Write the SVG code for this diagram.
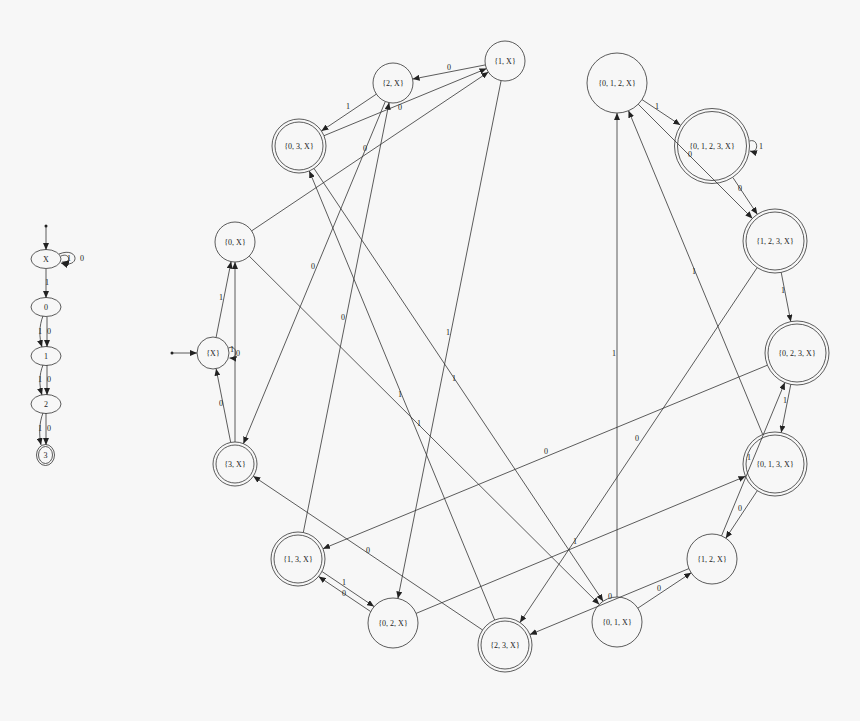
<svg xmlns="http://www.w3.org/2000/svg" width="860" height="721" viewBox="0 0 860 721">
<defs>
<style>
.n{fill:none;stroke:#333;stroke-width:0.8}
.e{fill:none;stroke:#333;stroke-width:0.8}
.t{font-family:"Liberation Serif",serif;font-size:8px;fill:#222;text-anchor:middle;dominant-baseline:central}
.l{font-family:"Liberation Serif",serif;font-size:8px;fill:#222;text-anchor:middle;dominant-baseline:central}
</style>
<marker id="a" markerUnits="userSpaceOnUse" markerWidth="8" markerHeight="6" refX="7" refY="3" orient="auto">
<path d="M0,0 L7,3 L0,6 Z" fill="#222"/>
</marker>
</defs>
<rect width="860" height="721" fill="#f7f7f7"/>

<!-- left NFA -->
<g id="nfa-edges">
<circle cx="46" cy="226" r="1.5" fill="#222"/>
<line class="e" x1="46" y1="227" x2="46" y2="250" marker-end="url(#a)"/>
<path class="e" d="M61,256 C70,252 72,264 62,262" marker-end="url(#a)"/>
<path class="e" d="M59,254 C79,246 81,269 61,263" marker-end="url(#a)"/>
<text class="l" x="69" y="258">1</text>
<text class="l" x="82" y="258">0</text>
<line class="e" x1="46" y1="269" x2="46" y2="298" marker-end="url(#a)"/>
<text class="l" x="47" y="282">1</text>
<path class="e" d="M43,316 C39,326 39,337 42,347" marker-end="url(#a)"/>
<line class="e" x1="47" y1="317" x2="47" y2="347" marker-end="url(#a)"/>
<text class="l" x="40" y="331">1</text>
<text class="l" x="49" y="331">0</text>
<path class="e" d="M43,365 C39,375 39,385 42,395" marker-end="url(#a)"/>
<line class="e" x1="47" y1="365" x2="47" y2="395" marker-end="url(#a)"/>
<text class="l" x="40" y="379">1</text>
<text class="l" x="49" y="379">0</text>
<path class="e" d="M43,413 C39,423 39,435 41,445" marker-end="url(#a)"/>
<line class="e" x1="46" y1="413" x2="46" y2="445" marker-end="url(#a)"/>
<text class="l" x="40" y="428">1</text>
<text class="l" x="49" y="428">0</text>
</g>
<g id="nX"><ellipse class="n" cx="46" cy="259" rx="15" ry="9.5"/><text class="t" x="46" y="259">X</text></g>
<g id="n0"><ellipse class="n" cx="46" cy="307" rx="15" ry="9.5"/><text class="t" x="46" y="307">0</text></g>
<g id="n1"><ellipse class="n" cx="46" cy="356" rx="15" ry="9.5"/><text class="t" x="46" y="356">1</text></g>
<g id="n2"><ellipse class="n" cx="46" cy="404" rx="15" ry="9.5"/><text class="t" x="46" y="404">2</text></g>
<g id="n3"><ellipse class="n" cx="45.5" cy="455" rx="9" ry="10.5"/><ellipse class="n" cx="45.5" cy="455" rx="7" ry="8.5"/><text class="t" x="45.5" y="455">3</text></g>

<!-- DFA edges -->
<g id="dfa-edges">
<circle cx="172" cy="353" r="1.5" fill="#222"/>
<line class="e" x1="173" y1="353" x2="197" y2="353" marker-end="url(#a)"/>
<path class="e" d="M228.5,348 C237,344 239,359 229.5,358" marker-end="url(#a)"/>
<text class="l" x="238" y="353">0</text>
<line class="e" x1="216.1" y1="337.3" x2="231.1" y2="261.6" marker-end="url(#a)"/>
<text class="l" x="221" y="297">1</text>
<line class="e" x1="230.7" y1="442.4" x2="216.1" y2="368.7" marker-end="url(#a)"/>
<text class="l" x="221" y="403">0</text>
<line class="e" x1="235" y1="442" x2="235" y2="262" marker-end="url(#a)"/>
<text class="l" x="232" y="349">1</text>
<line class="e" x1="251.6" y1="230.9" x2="488.4" y2="72.1" marker-end="url(#a)"/>
<text class="l" x="365" y="148">0</text>
<line class="e" x1="249.2" y1="256.1" x2="599.3" y2="604.4" marker-end="url(#a)"/>
<text class="l" x="419" y="423">1</text>
<line class="e" x1="485.4" y1="64.9" x2="412.6" y2="79.1" marker-end="url(#a)"/>
<text class="l" x="449" y="67">0</text>
<line class="e" x1="501.1" y1="80.6" x2="397.9" y2="598.5" marker-end="url(#a)"/>
<text class="l" x="448" y="332">1</text>
<line class="e" x1="385.3" y1="101.5" x2="243.4" y2="443.7" marker-end="url(#a)"/>
<text class="l" x="313" y="266">0</text>
<line class="e" x1="376.4" y1="94.1" x2="321.4" y2="131" marker-end="url(#a)"/>
<text class="l" x="348" y="106">1</text>
<line class="e" x1="324" y1="135.7" x2="486.5" y2="68.6" marker-end="url(#a)"/>
<text class="l" x="400" y="107">0</text>
<line class="e" x1="314" y1="168.5" x2="603.1" y2="601.2" marker-end="url(#a)"/>
<text class="l" x="454" y="378">1</text>
<line class="e" x1="637.8" y1="608.2" x2="691.2" y2="572.8" marker-end="url(#a)"/>
<text class="l" x="659" y="588">0</text>
<line class="e" x1="617" y1="597" x2="617" y2="113" marker-end="url(#a)"/>
<text class="l" x="614" y="353">1</text>
<line class="e" x1="370.6" y1="611.5" x2="318.7" y2="576.6" marker-end="url(#a)"/>
<text class="l" x="344" y="593">0</text>
<line class="e" x1="322.1" y1="571.6" x2="374" y2="606.5" marker-end="url(#a)"/>
<text class="l" x="344" y="582">1</text>
<line class="e" x1="416.1" y1="613.4" x2="745.5" y2="476.3" marker-end="url(#a)"/>
<text class="l" x="575" y="541">1</text>
<line class="e" x1="303.3" y1="532.5" x2="389.1" y2="102.6" marker-end="url(#a)"/>
<text class="l" x="343" y="317">0</text>
<line class="e" x1="482.6" y1="630" x2="253.3" y2="476.2" marker-end="url(#a)"/>
<text class="l" x="368" y="550">0</text>
<line class="e" x1="494.7" y1="620" x2="309.3" y2="171" marker-end="url(#a)"/>
<text class="l" x="400" y="394">1</text>
<line class="e" x1="688.9" y1="568.6" x2="529.9" y2="634.6" marker-end="url(#a)"/>
<text class="l" x="610" y="596">0</text>
<line class="e" x1="721.5" y1="535.9" x2="784.8" y2="382.6" marker-end="url(#a)"/>
<text class="l" x="749" y="457">1</text>
<line class="e" x1="757.3" y1="490.7" x2="725.8" y2="538.2" marker-end="url(#a)"/>
<text class="l" x="740" y="508">0</text>
<line class="e" x1="762.7" y1="434.4" x2="628.5" y2="110.7" marker-end="url(#a)"/>
<text class="l" x="694" y="271">1</text>
<line class="e" x1="790.8" y1="384.4" x2="781.2" y2="432.6" marker-end="url(#a)"/>
<text class="l" x="785" y="400">1</text>
<line class="e" x1="767.4" y1="365.2" x2="323" y2="548.7" marker-end="url(#a)"/>
<text class="l" x="546" y="451">0</text>
<line class="e" x1="781.2" y1="272.4" x2="790.8" y2="321.6" marker-end="url(#a)"/>
<text class="l" x="783" y="290">1</text>
<line class="e" x1="757.2" y1="267.6" x2="520" y2="622.5" marker-end="url(#a)"/>
<text class="l" x="637" y="438">0</text>
<line class="e" x1="642" y1="99.6" x2="680.3" y2="125" marker-end="url(#a)"/>
<text class="l" x="657" y="106">1</text>
<line class="e" x1="638.2" y1="104.2" x2="752.4" y2="218.4" marker-end="url(#a)"/>
<text class="l" x="690" y="154">0</text>
<line class="e" x1="733" y1="177.7" x2="757.3" y2="214.3" marker-end="url(#a)"/>
<text class="l" x="740" y="188">0</text>
<path class="e" d="M749.5,141 C759,138 759,154 750,151" marker-end="url(#a)"/>
<text class="l" x="761" y="146">1</text>
</g>

<!-- DFA nodes -->
<g id="s_X"><circle class="n" cx="213" cy="353" r="16"/><text class="t" x="213" y="353">{X}</text></g>
<g id="s_0X"><circle class="n" cx="235" cy="242" r="20"/><text class="t" x="235" y="242">{0, X}</text></g>
<g id="s_3X"><circle class="n" cx="235" cy="464" r="22"/><circle class="n" cx="235" cy="464" r="19"/><text class="t" x="235" y="464">{3, X}</text></g>
<g id="s_03X"><circle class="n" cx="299" cy="146" r="27"/><circle class="n" cx="299" cy="146" r="24"/><text class="t" x="299" y="146">{0, 3, X}</text></g>
<g id="s_2X"><circle class="n" cx="393" cy="83" r="20"/><text class="t" x="393" y="83">{2, X}</text></g>
<g id="s_1X"><circle class="n" cx="505" cy="61" r="20"/><text class="t" x="505" y="61">{1, X}</text></g>
<g id="s_012X"><circle class="n" cx="617" cy="83" r="30"/><text class="t" x="617" y="83">{0, 1, 2, X}</text></g>
<g id="s_0123X"><circle class="n" cx="712" cy="146" r="37.5"/><circle class="n" cx="712" cy="146" r="34.5"/><text class="t" x="712" y="146">{0, 1, 2, 3, X}</text></g>
<g id="s_123X"><circle class="n" cx="775" cy="241" r="32"/><circle class="n" cx="775" cy="241" r="29"/><text class="t" x="775" y="241">{1, 2, 3, X}</text></g>
<g id="s_023X"><circle class="n" cx="797" cy="353" r="32"/><circle class="n" cx="797" cy="353" r="29"/><text class="t" x="797" y="353">{0, 2, 3, X}</text></g>
<g id="s_013X"><circle class="n" cx="775" cy="464" r="32"/><circle class="n" cx="775" cy="464" r="29"/><text class="t" x="775" y="464">{0, 1, 3, X}</text></g>
<g id="s_12X"><circle class="n" cx="712" cy="559" r="25"/><text class="t" x="712" y="559">{1, 2, X}</text></g>
<g id="s_01X"><circle class="n" cx="617" cy="622" r="25"/><text class="t" x="617" y="622">{0, 1, X}</text></g>
<g id="s_23X"><circle class="n" cx="505" cy="645" r="27"/><circle class="n" cx="505" cy="645" r="24"/><text class="t" x="505" y="645">{2, 3, X}</text></g>
<g id="s_02X"><circle class="n" cx="393" cy="623" r="25"/><text class="t" x="393" y="623">{0, 2, X}</text></g>
<g id="s_13X"><circle class="n" cx="298" cy="559" r="27"/><circle class="n" cx="298" cy="559" r="24"/><text class="t" x="298" y="559">{1, 3, X}</text></g>
</svg>
